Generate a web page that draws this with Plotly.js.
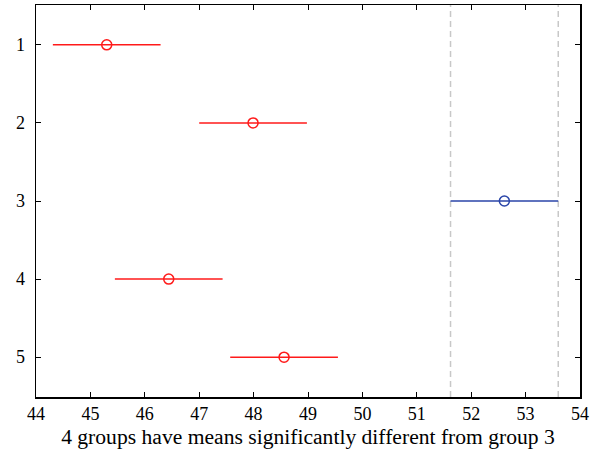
<!DOCTYPE html>
<html>
<head>
<meta charset="utf-8">
<script src="https://cdn.plot.ly/plotly-3.0.1.min.js"></script>
<style>html,body{margin:0;padding:0;background:#fff;}#chart{width:599px;height:457px;}</style>
</head>
<body>
<div id="chart"></div>
<script>
const groups = [1, 2, 3, 4, 5];
const means = [45.30, 47.99, 52.61, 46.44, 48.56];
const halfWidth = [0.99, 0.99, 0.99, 0.99, 0.99];
const refGroup = 3;
const xTicks = [44, 45, 46, 47, 48, 49, 50, 51, 52, 53, 54];
const xTitle = '4 groups have means significantly different from group 3';

const red = '#ff1a1a';
const blue = '#2a45a8';

const traces = groups.map((g, i) => {
  const c = g === refGroup ? blue : red;
  return {
    type: 'scatter', mode: 'markers',
    x: [means[i]], y: [g],
    error_x: {type: 'data', array: [halfWidth[i]], symmetric: true, color: c, thickness: 1.5, width: 0},
    marker: {symbol: 'circle-open', size: 10, color: c, line: {width: 1.5, color: c}},
    showlegend: false, hoverinfo: 'skip'
  };
});

const ri = groups.indexOf(refGroup);
const bounds = [means[ri] - halfWidth[ri], means[ri] + halfWidth[ri]];
const shapes = bounds.map(b => ({
  type: 'line', xref: 'x', yref: 'paper', x0: b, x1: b, y0: 0, y1: 1,
  line: {color: '#c8c8c8', width: 1.5, dash: '6px,4px'}, layer: 'below'
}));

const family = '"Liberation Serif", "DejaVu Serif", serif';
const tickFont = {family: family, size: 18, color: '#000'};
const titleFont = {family: family, size: 21.6, color: '#000'};

const layout = {
  width: 599, height: 457,
  margin: {l: 36, r: 19, t: 5, b: 60},
  paper_bgcolor: '#fff', plot_bgcolor: '#fff',
  font: tickFont,
  showlegend: false,
  shapes: shapes,
  xaxis: {
    range: [44, 54], tickvals: xTicks, ticktext: xTicks.map(String),
    ticks: 'inside', ticklen: 5, tickwidth: 1, tickcolor: '#000',
    showline: true, linecolor: '#000', linewidth: 1.5, mirror: 'ticks',
    showgrid: false, zeroline: false,
    tickfont: tickFont,
    title: {text: xTitle, font: titleFont, standoff: 6}
  },
  yaxis: {
    range: [5.51, 0.49], tickvals: groups, ticktext: groups.map(String),
    ticks: 'inside', ticklen: 5, tickwidth: 1, tickcolor: '#000',
    showline: true, linecolor: '#000', linewidth: 1.5, mirror: 'ticks',
    showgrid: false, zeroline: false,
    tickfont: tickFont, ticklabelstandoff: 6
  }
};

Plotly.newPlot('chart', traces, layout, {displayModeBar: false, staticPlot: true});
</script>
</body>
</html>
